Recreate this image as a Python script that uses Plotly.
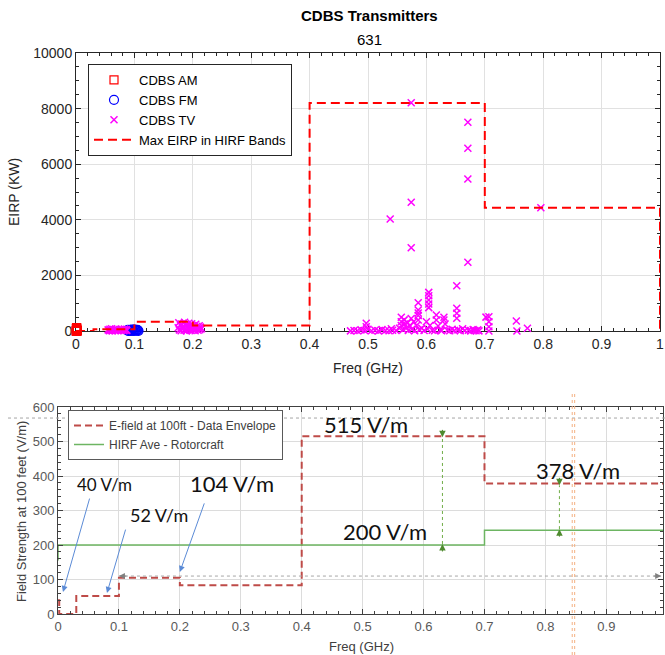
import plotly.graph_objects as go

# ---------------- Top chart data (CDBS Transmitters) ----------------
am_freq = [0.00054, 0.0006, 0.0007, 0.0008, 0.0009, 0.0010, 0.0011, 0.0012, 0.0013, 0.0014, 0.0015, 0.0016, 0.0017,
           0.0006, 0.0009, 0.0012, 0.0015]
am_eirp = [1, 2, 5, 3, 10, 5, 50, 8, 2, 15, 4, 1, 20, 90, 120, 60, 100]

fm_freq = [0.0885, 0.089, 0.090, 0.091, 0.092, 0.093, 0.094, 0.095, 0.096, 0.097,
           0.098, 0.099, 0.100, 0.101, 0.102, 0.103, 0.104, 0.105, 0.106, 0.107]
fm_eirp = [10, 40, 5, 30, 20, 45, 0, 30, 50, 15, 40, 5, 50, 25, 45, 10, 35, 40, 20, 5]

tv_freq = [
    0.055, 0.057, 0.058, 0.060, 0.061, 0.062, 0.064, 0.066, 0.067, 0.068,
    0.070, 0.072, 0.077, 0.078, 0.080, 0.082, 0.083, 0.084, 0.086, 0.087,
    0.175, 0.176, 0.177, 0.179, 0.180, 0.181, 0.182, 0.183, 0.185, 0.186,
    0.187, 0.188, 0.189, 0.191, 0.192, 0.193, 0.194, 0.195, 0.197, 0.198,
    0.199, 0.200, 0.201, 0.203, 0.204, 0.205, 0.206, 0.207, 0.209, 0.210,
    0.211, 0.212, 0.213, 0.215,
    0.470, 0.476, 0.482, 0.488, 0.494, 0.497, 0.497, 0.500, 0.506, 0.512,
    0.518, 0.524, 0.530, 0.536, 0.538, 0.540, 0.542, 0.548, 0.554, 0.557,
    0.557, 0.557, 0.560, 0.562, 0.563, 0.566, 0.568, 0.569, 0.572, 0.574,
    0.574, 0.574, 0.574, 0.575, 0.578, 0.580, 0.583, 0.586, 0.586, 0.586,
    0.586, 0.586, 0.588, 0.592, 0.596, 0.600, 0.602, 0.604, 0.604, 0.604,
    0.604, 0.604, 0.606, 0.610, 0.614, 0.617, 0.617, 0.620, 0.624, 0.626,
    0.630, 0.630, 0.632, 0.636, 0.640, 0.644, 0.648, 0.652, 0.652, 0.652,
    0.652, 0.654, 0.658, 0.662, 0.666, 0.671, 0.671, 0.671, 0.671, 0.672,
    0.676, 0.680, 0.682, 0.685, 0.688, 0.690, 0.702, 0.707, 0.707, 0.707,
    0.707, 0.754, 0.755, 0.773, 0.796,
]
tv_eirp = [
    40, 10, 60, 20, 80, 5, 50, 30, 10, 70,
    45, 15, 60, 20, 45, 10, 70, 30, 55, 15,
    120, 300, 40, 200, 10, 250, 90, 160, 30, 316,
    70, 230, 5, 180, 110, 280, 50, 150, 20, 260,
    90, 200, 40, 130, 10, 240, 60, 170, 25, 100,
    190, 50, 140, 80,
    5, 20, 10, 40, 15, 276, 150, 60, 10, 30,
    5, 50, 20, 10, 4029, 80, 30, 15, 100, 493,
    335, 200, 50, 400, 250, 120, 300, 20, 180, 8210,
    4630, 2997, 450, 60, 330, 10, 200, 1018, 755, 650,
    560, 395, 40, 100, 20, 335, 70, 1390, 1270, 1115,
    970, 840, 200, 30, 10, 576, 396, 180, 40, 10,
    496, 396, 250, 30, 10, 60, 20, 1630, 816, 637,
    457, 40, 10, 80, 20, 7507, 6572, 5468, 2472, 30,
    5, 50, 20, 10, 40, 5, 500, 515, 335, 150,
    0, 360, 0, 96, 4435,
]

hirf_band_edges = [0, 0.03, 0.1, 0.2, 0.4, 0.7, 1.0]
hirf_max_eirp = [0, 60, 330, 200, 8200, 4430, 0]

top_xticks = [0, 0.1, 0.2, 0.3, 0.4, 0.5, 0.6, 0.7, 0.8, 0.9, 1]
top_xtick_text = ["0", "0.1", "0.2", "0.3", "0.4", "0.5", "0.6", "0.7", "0.8", "0.9", "1"]
top_yticks = [0, 2000, 4000, 6000, 8000, 10000]
top_ytick_text = ["0", "2000", "4000", "6000", "8000", "10000"]

# ---------------- Bottom chart data (field strength) ----------------
env_freq = [0, 0.002, 0.03, 0.1, 0.2, 0.4, 0.7, 1.0]
env_field = [40, 0, 52, 105, 83, 515, 378, 378]

hirf_ave_freq = [0, 0, 0.7, 1.0]
hirf_ave_field = [155, 200, 243, 243]

bot_xticks = [0, 0.1, 0.2, 0.3, 0.4, 0.5, 0.6, 0.7, 0.8, 0.9]
bot_xtick_text = ["0", "0.1", "0.2", "0.3", "0.4", "0.5", "0.6", "0.7", "0.8", "0.9"]
bot_yticks = [0, 100, 200, 300, 400, 500, 600]

value_labels = ["40 V/m", "52 V/m", "104 V/m", "515 V/m", "378 V/m", "200 V/m"]
value_label_x = [0.077, 0.166, 0.286, 0.506, 0.853, 0.537]
value_label_y = [374, 287, 377, 548, 417, 238]
value_label_size = [17, 18, 22, 22, 22, 22]

W, H = 665, 655
def px(x):
    return x / W
def py(y):
    return 1 - y / H

TOPFONT = "Liberation Sans, Arial, sans-serif"
AXC = "#262626"
fig = go.Figure()

# ---- top traces ----
fig.add_trace(go.Scatter(
    x=am_freq, y=am_eirp, mode="markers", name="CDBS AM",
    marker=dict(symbol="square-open", size=8, color="#FF0000", line=dict(width=1.2)),
    cliponaxis=False, xaxis="x", yaxis="y", legend="legend"))
fig.add_trace(go.Scatter(
    x=fm_freq, y=fm_eirp, mode="markers", name="CDBS FM",
    marker=dict(symbol="circle-open", size=9, color="#0000FF", line=dict(width=1.2)),
    cliponaxis=False, xaxis="x", yaxis="y", legend="legend"))
fig.add_trace(go.Scatter(
    x=tv_freq, y=tv_eirp, mode="markers", name="CDBS TV",
    marker=dict(symbol="x-thin-open", size=7, color="#FF00FF", line=dict(width=1.5, color="#FF00FF")),
    cliponaxis=False, xaxis="x", yaxis="y", legend="legend"))
fig.add_trace(go.Scatter(
    x=hirf_band_edges, y=hirf_max_eirp, mode="lines", name="Max EIRP in HIRF Bands",
    line=dict(color="#FF0000", dash="9px,5px", width=2, shape="hv"),
    xaxis="x", yaxis="y", legend="legend"))

# ---- bottom traces ----
fig.add_trace(go.Scatter(
    x=env_freq, y=env_field, mode="lines", name="E-field at 100ft - Data Envelope",
    line=dict(color="#BE4B48", dash="7px,4px", width=2, shape="hv"),
    xaxis="x2", yaxis="y2", legend="legend2"))
fig.add_trace(go.Scatter(
    x=hirf_ave_freq, y=hirf_ave_field, mode="lines", name="HIRF Ave - Rotorcraft",
    line=dict(color="#6DB562", width=1.5, shape="hv"),
    xaxis="x2", yaxis="y2", legend="legend2"))

annotations = []
annotations.append(dict(text="<b>CDBS Transmitters</b>", x=px(369), y=py(16), xref="paper", yref="paper",
                        showarrow=False, font=dict(family=TOPFONT, size=15, color="#000000"),
                        xanchor="center", yanchor="middle"))
annotations.append(dict(text="631", x=px(369), y=py(40), xref="paper", yref="paper",
                        showarrow=False, font=dict(family=TOPFONT, size=15, color="#000000"),
                        xanchor="center", yanchor="middle"))
annotations.append(dict(text="EIRP (KW)", x=px(14), y=py(192), xref="paper", yref="paper",
                        showarrow=False, textangle=-90, font=dict(family=TOPFONT, size=14, color=AXC),
                        xanchor="center", yanchor="middle"))
annotations.append(dict(text="Freq (GHz)", x=px(368), y=py(368), xref="paper", yref="paper",
                        showarrow=False, font=dict(family=TOPFONT, size=14, color=AXC),
                        xanchor="center", yanchor="middle"))
annotations.append(dict(text="Field Strength at 100 feet (V/m)", x=px(21), y=py(512), xref="paper", yref="paper",
                        showarrow=False, textangle=-90, font=dict(family=TOPFONT, size=13, color="#404040"),
                        xanchor="center", yanchor="middle"))
annotations.append(dict(text="Freq (GHz)", x=px(362), y=py(646), xref="paper", yref="paper",
                        showarrow=False, font=dict(family=TOPFONT, size=13, color="#404040"),
                        xanchor="center", yanchor="middle"))
for t, x, y, s in zip(value_labels, value_label_x, value_label_y, value_label_size):
    annotations.append(dict(text=t, x=x, y=y, xref="x2", yref="y2", showarrow=False,
                            font=dict(family="Lato, sans-serif", size=s, color="#111111"),
                            xanchor="center", yanchor="middle"))
blue_arrows = [((0.0082, 64), (0.0525, 339)), ((0.0804, 61), (0.1116, 249)), ((0.200, 122), (0.241, 325))]
for (hx, hy), (tx, ty) in blue_arrows:
    annotations.append(dict(text="", x=hx, y=hy, ax=tx, ay=ty, xref="x2", yref="y2", axref="x2", ayref="y2",
                            showarrow=True, arrowhead=2, arrowsize=1.2, arrowwidth=1, arrowcolor="#5B8BD6"))
green_heads = [(0.631, 512, -9), (0.631, 203, 9), (0.823, 373, -9), (0.823, 246, 9)]
for x, y, dy in green_heads:
    annotations.append(dict(text="", x=x, y=y, ax=0, ay=dy, xref="x2", yref="y2",
                            showarrow=True, arrowhead=2, arrowsize=1.3, arrowwidth=1, arrowcolor="#4E8A2E"))
annotations.append(dict(text="", x=0.1, y=110, ax=9, ay=0, xref="x2", yref="y2", showarrow=True,
                        arrowhead=2, arrowsize=1.2, arrowwidth=1, arrowcolor="#808080"))
annotations.append(dict(text="", x=0.99, y=110, ax=-9, ay=0, xref="x2", yref="y2", showarrow=True,
                        arrowhead=2, arrowsize=1.2, arrowwidth=1, arrowcolor="#808080"))

shapes = [
    dict(type="line", xref="paper", yref="y2", x0=px(8), x1=1, y0=568, y1=568,
         line=dict(color="#A6A6A6", width=1, dash="dot")),
    dict(type="line", xref="x2", yref="y2", x0=0.1, x1=0.99, y0=110, y1=110,
         line=dict(color="#A6A6A6", width=1, dash="dot")),
    dict(type="line", xref="x2", yref="y2", x0=0.631, x1=0.631, y0=203, y1=512,
         line=dict(color="#70AD47", width=1, dash="dot")),
    dict(type="line", xref="x2", yref="y2", x0=0.823, x1=0.823, y0=246, y1=373,
         line=dict(color="#70AD47", width=1, dash="dot")),
    dict(type="line", xref="x2", yref="paper", x0=0.844, x1=0.844, y0=0, y1=py(393),
         line=dict(color="#F4B183", width=1, dash="dot")),
    dict(type="line", xref="x2", yref="paper", x0=0.848, x1=0.848, y0=0, y1=py(393),
         line=dict(color="#F4B183", width=1, dash="dot")),
]

fig.update_layout(
    width=W, height=H,
    margin=dict(l=0, r=0, t=0, b=0, pad=0),
    paper_bgcolor="#FFFFFF", plot_bgcolor="#FFFFFF",
    showlegend=True,
    xaxis=dict(domain=[px(76), px(660)], range=[0, 1], anchor="y", automargin=False,
               tickvals=top_xticks, ticktext=top_xtick_text, ticklabeloverflow="allow",
               ticks="inside", ticklen=5, tickcolor=AXC, tickwidth=1, layer="below traces",
               minor=dict(dtick=0.02, tick0=0, ticks="inside", ticklen=3, tickcolor=AXC, showgrid=False),
               showline=True, linecolor=AXC, linewidth=1, mirror="ticks",
               showgrid=True, gridcolor="#E1E1E1", gridwidth=1, zeroline=False,
               tickfont=dict(family=TOPFONT, size=14, color=AXC)),
    yaxis=dict(domain=[py(331), py(53)], range=[0, 10000], anchor="x", automargin=False,
               tickvals=top_yticks, ticktext=top_ytick_text, ticklabeloverflow="allow",
               ticks="inside", ticklen=5, tickcolor=AXC, tickwidth=1, layer="below traces",
               minor=dict(dtick=500, tick0=0, ticks="inside", ticklen=3, tickcolor=AXC, showgrid=False),
               showline=True, linecolor=AXC, linewidth=1, mirror="ticks",
               showgrid=True, gridcolor="#E1E1E1", gridwidth=1, zeroline=False,
               tickfont=dict(family=TOPFONT, size=14, color=AXC)),
    xaxis2=dict(domain=[px(58), px(663)], range=[0, 0.993], anchor="y2", automargin=False,
                tickvals=bot_xticks, ticktext=bot_xtick_text, ticklabeloverflow="allow",
                ticks="inside", ticklen=5, tickcolor="#404040", tickwidth=1,
                minor=dict(dtick=0.02, tick0=0, ticks="inside", ticklen=3, tickcolor="#404040", showgrid=False),
                showline=True, linecolor="#404040", linewidth=1, mirror="ticks",
                showgrid=True, gridcolor="#DCDCDC", gridwidth=1, zeroline=False,
                tickfont=dict(family=TOPFONT, size=13, color="#595959")),
    yaxis2=dict(domain=[py(614), py(407)], range=[0, 600], anchor="x2", automargin=False,
                tickvals=bot_yticks, ticklabeloverflow="allow",
                ticks="inside", ticklen=5, tickcolor="#404040", tickwidth=1,
                minor=dict(dtick=20, tick0=0, ticks="inside", ticklen=3, tickcolor="#404040", showgrid=False),
                showline=True, linecolor="#404040", linewidth=1, mirror="ticks",
                showgrid=True, gridcolor="#DCDCDC", gridwidth=1, zeroline=False,
                tickfont=dict(family=TOPFONT, size=13, color="#595959")),
    legend=dict(x=px(88), y=py(64), xanchor="left", yanchor="top",
                bgcolor="#FFFFFF", bordercolor=AXC, borderwidth=1,
                font=dict(family=TOPFONT, size=13, color="#000000"),
                tracegroupgap=0, itemwidth=40),
    legend2=dict(x=px(68), y=py(410), xanchor="left", yanchor="top",
                 bgcolor="#FFFFFF", bordercolor="#595959", borderwidth=1,
                 font=dict(family=TOPFONT, size=12, color="#404040"),
                 tracegroupgap=0, itemwidth=30),
    annotations=annotations,
    shapes=shapes,
)

# remove the default 8px page margin and scrollbars so the 665x655 figure fills the window
fig.write_html("out.html",
               config={"displayModeBar": False},
               post_script="document.body.style.margin='0';"
                           "document.documentElement.style.overflow='hidden';"
                           "document.body.style.overflow='hidden';")
